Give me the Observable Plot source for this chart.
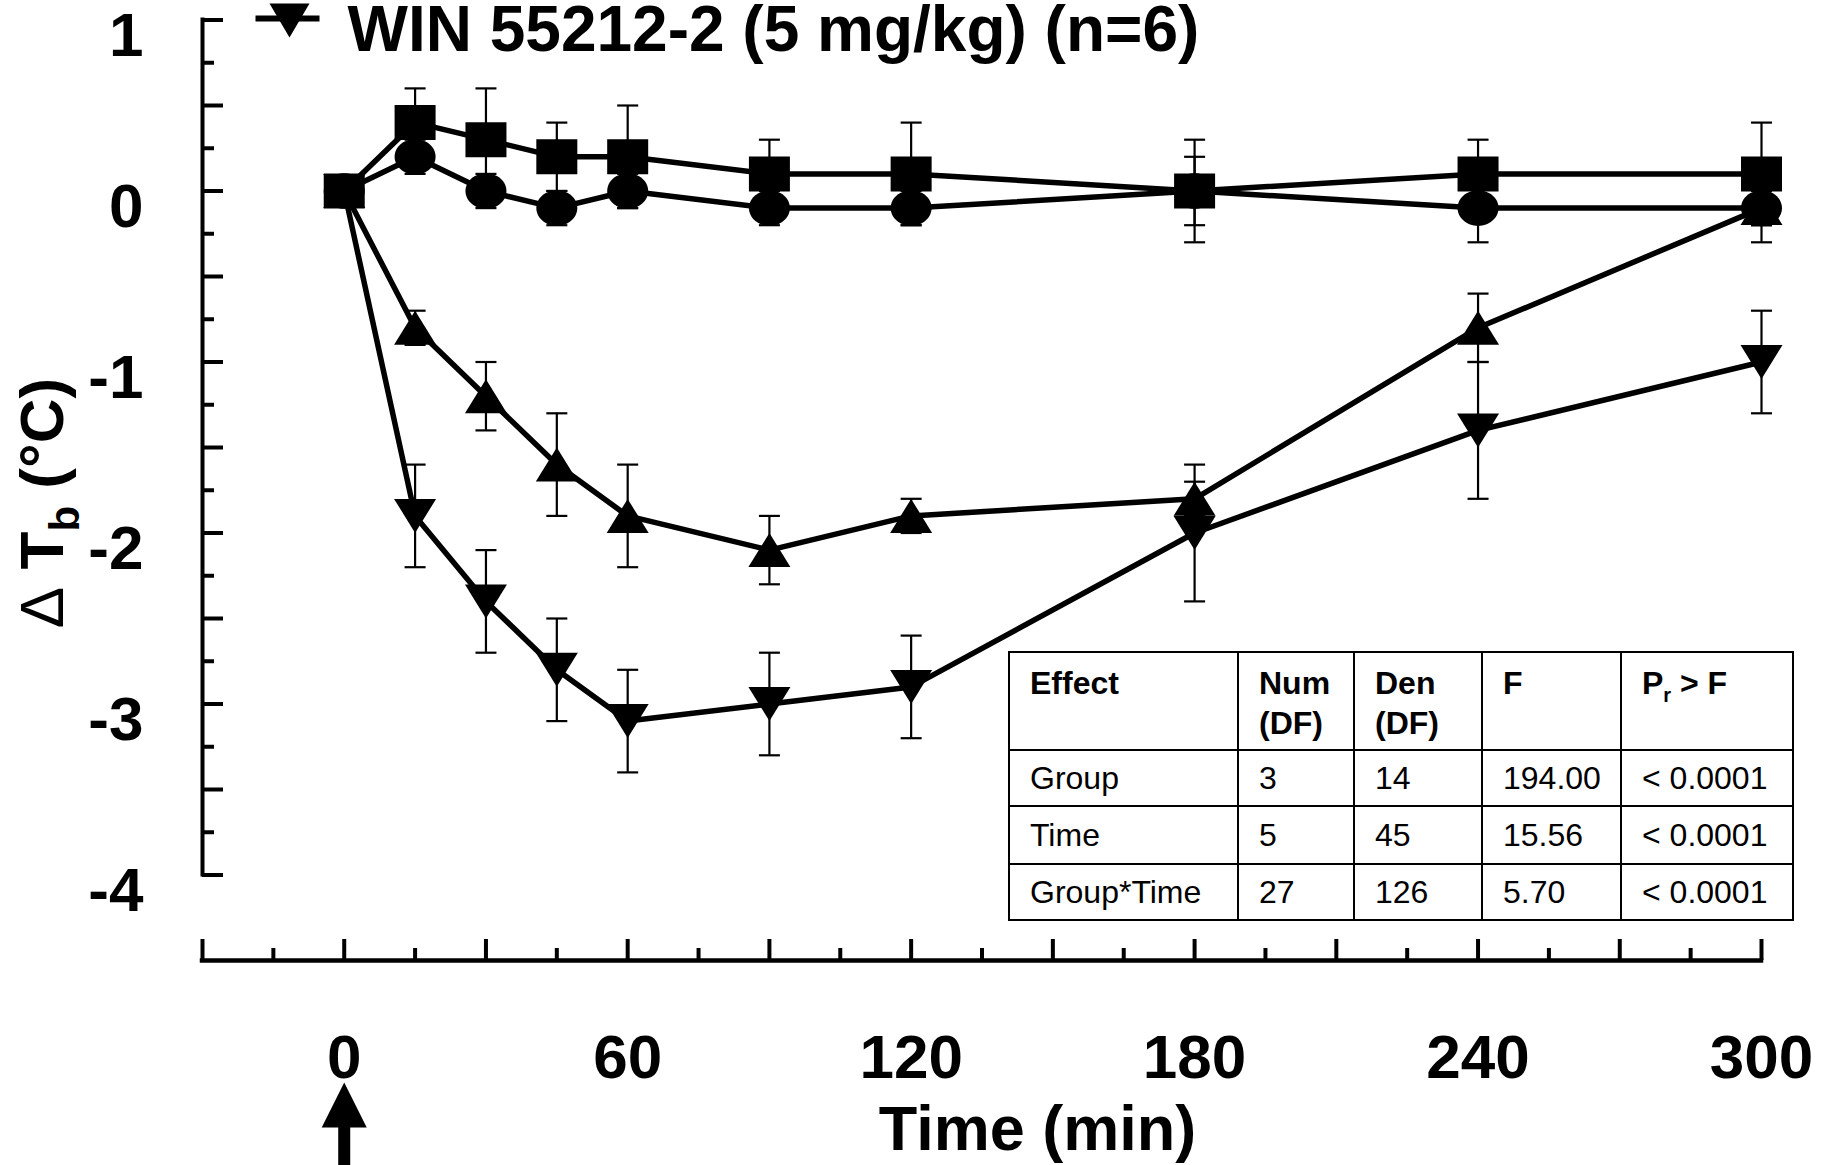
<!DOCTYPE html>
<html>
<head>
<meta charset="utf-8">
<script src="https://cdn.jsdelivr.net/npm/d3@7"></script>
<script src="https://cdn.jsdelivr.net/npm/@observablehq/plot@0.6"></script>
<style>
  body { margin: 0; background: #fff; }
  #wrap { position: relative; width: 1834px; height: 1165px; overflow: hidden; background: #fff;
          font-family: "Liberation Sans", Arial, Helvetica, sans-serif; }
  #wrap svg { position: absolute; left: 0; top: 0; }
  #stats { position: absolute; left: 1008px; top: 651px; width: 784px; border-collapse: collapse;
           table-layout: fixed; font-size: 32px; color: #000; }
  #stats th, #stats td { border: 2.5px solid #000; padding: 0 0 0 20px; text-align: left; white-space: nowrap; }
  #stats th { font-weight: bold; vertical-align: top; padding-top: 10px; line-height: 40px; }
  #stats td { font-weight: normal; vertical-align: middle; line-height: 1; }
  #stats sub { font-size: 20px; line-height: 0; vertical-align: -8px; }
</style>
</head>
<body>
<div id="wrap"></div>
<script>
// ---------- data ----------
const time = [0, 15, 30, 45, 60, 90, 120, 180, 240, 300];

const squareMean = [0, 0.4, 0.3, 0.2, 0.2, 0.1, 0.1, 0.0, 0.1, 0.1];
const squareSem  = [0, 0.2, 0.3, 0.2, 0.3, 0.2, 0.3, 0.3, 0.2, 0.3];

const circleMean = [0, 0.2, 0.0, -0.1, 0.0, -0.1, -0.1, 0.0, -0.1, -0.1];
const circleSem  = [0, 0.1, 0.1, 0.1, 0.1, 0.1, 0.1, 0.2, 0.2, 0.2];

const triUpMean = [0, -0.8, -1.2, -1.6, -1.9, -2.1, -1.9, -1.8, -0.8, -0.1];
const triUpSem  = [0, 0.1, 0.2, 0.3, 0.3, 0.2, 0.1, 0.1, 0.2, 0.1];

const triDownMean = [0, -1.9, -2.4, -2.8, -3.1, -3.0, -2.9, -2.0, -1.4, -1.0];
const triDownSem  = [0, 0.3, 0.3, 0.3, 0.3, 0.3, 0.3, 0.4, 0.4, 0.3];

const legendLabel = "WIN 55212-2 (5 mg/kg) (n=6)";
const xTitle = "Time (min)";
const yTitleParts = ["Δ", " T", "b", " (°C)"];

const xDomain = [-30, 300];
const yDomain = [-4.5, 1];
const yAxisSpan = [-4, 1];
const xMajorTicks = [-30, 0, 30, 60, 90, 120, 150, 180, 210, 240, 270, 300];
const xMinorTicks = [-15, 15, 45, 75, 105, 135, 165, 195, 225, 255, 285];
const xTickLabels = [0, 60, 120, 180, 240, 300];
const yMajorTicks = [1, 0.5, 0, -0.5, -1, -1.5, -2, -2.5, -3, -3.5, -4];
const yMinorTicks = [0.75, 0.25, -0.25, -0.75, -1.25, -1.75, -2.25, -2.75, -3.25, -3.75];
const yTickLabels = [1, 0, -1, -2, -3, -4];
const arrowAt = [0];

const tableHeader = [["Effect"], ["Num", "(DF)"], ["Den", "(DF)"], ["F"], ["P_r > F"]];
const tableEffect = ["Group", "Time", "Group*Time"];
const tableNumDF = ["3", "5", "27"];
const tableDenDF = ["14", "45", "126"];
const tableF = ["194.00", "15.56", "5.70"];
const tableP = ["< 0.0001", "< 0.0001", "< 0.0001"];

// ---------- symbols ----------
const triDownSym = {draw(c) { c.moveTo(-21, -17); c.lineTo(21, -17); c.lineTo(0, 17); c.closePath(); }};
const triUpSym = {draw(c) { c.moveTo(-21, 17); c.lineTo(21, 17); c.lineTo(0, -17); c.closePath(); }};
const squareSym = {draw(c) { c.moveTo(-20.5, -17.5); c.lineTo(20.5, -17.5); c.lineTo(20.5, 17.5); c.lineTo(-20.5, 17.5); c.closePath(); }};
const ellipseSym = {draw(c) {
  const rx = 20.5, ry = 17.8, kx = rx * 0.5523, ky = ry * 0.5523;
  c.moveTo(rx, 0);
  c.bezierCurveTo(rx, ky, kx, ry, 0, ry);
  c.bezierCurveTo(-kx, ry, -rx, ky, -rx, 0);
  c.bezierCurveTo(-rx, -ky, -kx, -ry, 0, -ry);
  c.bezierCurveTo(kx, -ry, rx, -ky, rx, 0);
  c.closePath();
}};
const capSym = {draw(c) { c.moveTo(-10.5, 0); c.lineTo(10.5, 0); }};
const legendTriSym = {draw(c) { c.moveTo(-20, -17); c.lineTo(20, -17); c.lineTo(0, 17); c.closePath(); }};
const legendLineSym = {draw(c) { c.moveTo(-32, 0); c.lineTo(32, 0); }};
const arrowSym = {draw(c) {
  c.moveTo(0, 0); c.lineTo(22.5, 45); c.lineTo(6, 45); c.lineTo(6, 90);
  c.lineTo(-6, 90); c.lineTo(-6, 45); c.lineTo(-22.5, 45); c.closePath();
}};

// ---------- build rows ----------
const series = [
  {key: "down", mean: triDownMean, sem: triDownSem, symbol: triDownSym},
  {key: "up", mean: triUpMean, sem: triUpSem, symbol: triUpSym},
  {key: "circle", mean: circleMean, sem: circleSem, symbol: ellipseSym},
  {key: "square", mean: squareMean, sem: squareSem, symbol: squareSym}
];
const rows = series.flatMap(s => time.map((t, i) => ({series: s.key, t, m: s.mean[i], e: s.sem[i]})));
const errRows = rows.filter(r => r.e > 0);

// ---------- layout ----------
const W = 1834, H = 1165;
const mL = 202, mR = 73, mT = 19.5, mB = 205;
const frameW = W - mL - mR, frameH = H - mT - mB;
const font = "'Liberation Sans', Arial, Helvetica, sans-serif";

const chart = Plot.plot({
  width: W, height: H,
  marginLeft: mL, marginRight: mR, marginTop: mT, marginBottom: mB,
  x: {domain: xDomain, axis: null},
  y: {domain: yDomain, axis: null},
  style: {fontFamily: font, background: "white", color: "black", overflow: "visible"},
  marks: [
    // x axis
    Plot.ruleY([yDomain[0]], {y: d => d, strokeWidth: 4.5, strokeLinecap: "square"}),
    Plot.ruleX(xMajorTicks, {x: d => d, insetTop: frameH - 21, strokeWidth: 4}),
    Plot.ruleX(xMinorTicks, {x: d => d, insetTop: frameH - 12, strokeWidth: 4}),
    // y axis
    Plot.ruleX([xDomain[0]], {x: d => d, y1: yAxisSpan[0], y2: yAxisSpan[1], strokeWidth: 4, strokeLinecap: "square"}),
    Plot.ruleY(yMajorTicks, {y: d => d, insetRight: frameW - 21, strokeWidth: 4}),
    Plot.ruleY(yMinorTicks, {y: d => d, insetRight: frameW - 12, strokeWidth: 4}),
    // tick labels
    Plot.text(yTickLabels, {y: d => d, text: d => String(d), frameAnchor: "left", textAnchor: "end",
      lineAnchor: "bottom", dx: -59, dy: 36, fontSize: 62, fontWeight: "bold", fill: "black"}),
    Plot.text(xTickLabels, {x: d => d, text: d => String(d), frameAnchor: "bottom",
      lineAnchor: "bottom", dy: 117, fontSize: 62, fontWeight: "bold", fill: "black"}),
    Plot.text([xTitle], {text: d => d, frameAnchor: "bottom", lineAnchor: "bottom",
      dx: 55.5, dy: 189, fontSize: 63, fontWeight: "bold", fill: "black"}),
    // injection arrow
    Plot.dot(arrowAt, {x: d => d, frameAnchor: "bottom", dy: 122, symbol: arrowSym, fill: "black", stroke: "none"}),
    // error bars
    Plot.ruleX(errRows, {x: "t", y1: r => r.m - r.e, y2: r => r.m + r.e, strokeWidth: 2.2}),
    Plot.dot(errRows, {x: "t", y: r => r.m + r.e, symbol: capSym, fill: "none", stroke: "black", strokeWidth: 2.2}),
    Plot.dot(errRows, {x: "t", y: r => r.m - r.e, symbol: capSym, fill: "none", stroke: "black", strokeWidth: 2.2}),
    // lines
    Plot.line(rows, {x: "t", y: "m", z: "series", stroke: "black", strokeWidth: 5.5, strokeLinejoin: "round"}),
    // markers
    ...series.map(s => Plot.dot(rows.filter(r => r.series === s.key),
      {x: "t", y: "m", symbol: s.symbol, fill: "black", stroke: "none"})),
    // legend
    Plot.dot([legendLabel], {frameAnchor: "top-left", dx: 85, dy: -1.5, symbol: legendLineSym, fill: "none", stroke: "black", strokeWidth: 6}),
    Plot.dot([legendLabel], {frameAnchor: "top-left", dx: 87, dy: 0.5, symbol: legendTriSym, fill: "black", stroke: "none"}),
    Plot.text([legendLabel], {text: d => d, frameAnchor: "top-left", textAnchor: "start", lineAnchor: "bottom",
      dx: 145, dy: 31, fontSize: 64, fontWeight: "bold", fill: "black"})
  ]
});

// y-axis title with subscript
const svg = d3.select(chart);
const yt = svg.append("text")
  .attr("transform", "translate(63,503) rotate(-90)")
  .attr("text-anchor", "middle")
  .attr("font-family", font)
  .attr("font-size", 62)
  .attr("font-weight", "bold")
  .attr("fill", "black");
yt.append("tspan").attr("font-weight", "normal").text(yTitleParts[0]);
yt.append("tspan").text(yTitleParts[1]);
yt.append("tspan").attr("font-size", 42).attr("dy", 16).text(yTitleParts[2]);
yt.append("tspan").attr("dy", -16).text(yTitleParts[3]);

const wrap = document.getElementById("wrap");
wrap.appendChild(chart);

// statistics table
const table = d3.select(wrap).append("table").attr("id", "stats");
const colW = [229, 116, 128, 139, 172];
table.append("colgroup").selectAll("col").data(colW).join("col").style("width", d => d + "px");
const hr = table.append("tr").style("height", "98px");
tableHeader.forEach(lines => {
  const th = hr.append("th");
  lines.forEach((ln, i) => {
    if (i > 0) th.append("br");
    if (ln.includes("_")) {
      const [a, rest] = ln.split("_");
      th.append("span").text(a);
      th.append("sub").text(rest[0]);
      th.append("span").text(rest.slice(1));
    } else th.append("span").text(ln);
  });
});
const rowH = [56, 58, 56];
tableEffect.forEach((eff, i) => {
  const tr = table.append("tr").style("height", rowH[i] + "px");
  [eff, tableNumDF[i], tableDenDF[i], tableF[i], tableP[i]].forEach(v => tr.append("td").text(v));
});
</script>
</body>
</html>
